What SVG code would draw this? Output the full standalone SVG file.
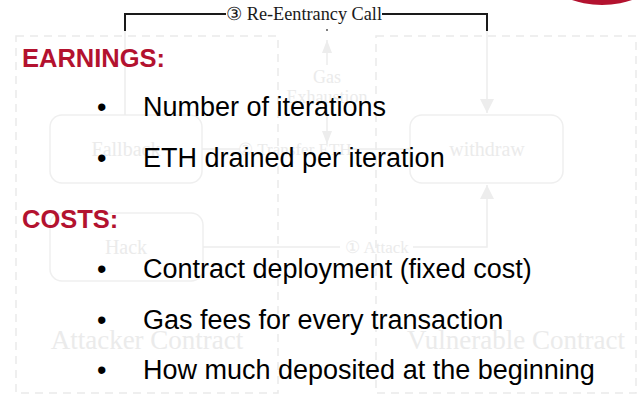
<svg xmlns="http://www.w3.org/2000/svg" width="637" height="395" viewBox="0 0 637 395">
<defs>
<style>
.dash{fill:none;stroke:#eaeaea;stroke-width:1.5;stroke-dasharray:8 6}
.box{fill:none;stroke:#efefef;stroke-width:1.5}
.fl{fill:none;stroke:#ededed;stroke-width:1.5}
.ft{font-family:"Liberation Serif","Times New Roman",serif;fill:#ebebeb;text-anchor:middle}
.top{fill:none;stroke:#1a1a1a;stroke-width:2}
.head{font-family:"Liberation Sans",Arial,Helvetica,sans-serif;font-weight:bold;font-size:25.5px;fill:#b3122f}
.item{font-family:"Liberation Sans",Arial,Helvetica,sans-serif;font-size:27px;fill:#000}
</style>
<marker id="ah" viewBox="0 0 14 14" refX="14" refY="7" markerWidth="14" markerHeight="14" markerUnits="userSpaceOnUse" orient="auto">
<path d="M0,0 L14,7 L0,14 Z" fill="#ededed"/>
</marker>
<marker id="ahs" viewBox="0 0 13 10" refX="13" refY="5" markerWidth="13" markerHeight="10" markerUnits="userSpaceOnUse" orient="auto">
<path d="M0,0 L13,5 L0,10 Z" fill="#ededed"/>
</marker>
</defs>
<rect width="637" height="395" fill="#fff"/>
<circle cx="602" cy="-88" r="93" fill="#b3122f"/>
<g id="attacker-contract">
<rect class="dash" x="16" y="36" width="262" height="357"/>
<text class="ft" x="147" y="349" font-size="27">Attacker Contract</text>
</g>
<g id="vulnerable-contract">
<rect class="dash" x="376" y="36" width="260" height="357"/>
<text class="ft" x="516" y="349" font-size="27">Vulnerable Contract</text>
</g>
<g id="fallback">
<rect class="box" x="50" y="115" width="152" height="68" rx="12"/>
<text class="ft" x="126" y="156" font-size="20">Fallback</text>
</g>
<g id="hack">
<rect class="box" x="50" y="213" width="153" height="68" rx="12"/>
<text class="ft" x="126" y="254" font-size="20">Hack</text>
</g>
<g id="withdraw">
<rect class="box" x="410" y="115" width="153" height="68" rx="12"/>
<text class="ft" x="487" y="156" font-size="20">withdraw</text>
</g>
<g id="connectors">
<path class="top" d="M125,31 V14 H226 M382,14 H487 V31"/>
<text x="304" y="20" text-anchor="middle" font-family="Liberation Serif,'Times New Roman',serif" font-size="18" textLength="156" lengthAdjust="spacingAndGlyphs" fill="#1a1a1a">③ Re-Eentrancy Call</text>
<circle cx="327" cy="30" r="1" fill="#555"/>
<path class="fl" d="M125,31 V115"/>
<path class="fl" d="M487,31 V113" marker-end="url(#ah)"/>
<path class="fl" d="M203,247 H340 M413,247 H487 V185" marker-end="url(#ah)"/>
<text class="ft" x="377" y="253" font-size="17">① Attack</text>
<path class="fl" d="M327,65 V40" marker-end="url(#ahs)"/>
<path class="fl" d="M327,110 V144" marker-end="url(#ahs)"/>
<text class="ft" x="327" y="83" font-size="18">Gas</text>
<text class="ft" x="327" y="103" font-size="18">Exhaustion</text>
<path class="fl" d="M410,149 H350 M240,149 H202"/>
<text class="ft" x="295" y="155" font-size="17">② Transfer ETH</text>
</g>
<g id="earnings">
<text class="head" x="22" y="66.5">EARNINGS:</text>
<text class="item" x="97" y="115.5">•</text>
<text class="item" x="143" y="115.5">Number of iterations</text>
<text class="item" x="97" y="166.5">•</text>
<text class="item" x="143" y="166.5">ETH drained per iteration</text>
</g>
<g id="costs">
<text class="head" x="22" y="227.5">COSTS:</text>
<text class="item" x="97" y="277.5">•</text>
<text class="item" x="143" y="277.5">Contract deployment (fixed cost)</text>
<text class="item" x="97" y="328.5">•</text>
<text class="item" x="143" y="328.5">Gas fees for every transaction</text>
<text class="item" x="97" y="378.5">•</text>
<text class="item" x="143" y="378.5">How much deposited at the beginning</text>
</g>
</svg>
